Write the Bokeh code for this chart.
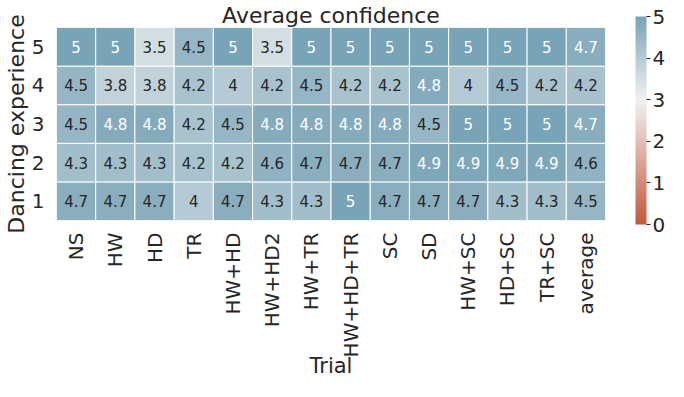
import numpy as np
from bokeh.plotting import figure
from bokeh.models import ColumnDataSource, LinearColorMapper, ColorBar, FixedTicker, FactorRange
from bokeh.embed import file_html
from bokeh.resources import INLINE
from bokeh.core.properties import value

trials = ["NS", "HW", "HD", "TR", "HW+HD", "HW+HD2", "HW+TR", "HW+HD+TR",
          "SC", "SD", "HW+SC", "HD+SC", "TR+SC", "average"]
levels = ["1", "2", "3", "4", "5"]

exp5 = [5, 5, 3.5, 4.5, 5, 3.5, 5, 5, 5, 5, 5, 5, 5, 4.73]
exp4 = [4.5, 3.8, 3.8, 4.2, 4, 4.2, 4.5, 4.2, 4.2, 4.8, 4, 4.5, 4.2, 4.22]
exp3 = [4.5, 4.8, 4.8, 4.2, 4.5, 4.8, 4.8, 4.8, 4.8, 4.5, 5, 5, 5, 4.73]
exp2 = [4.3, 4.3, 4.3, 4.2, 4.2, 4.6, 4.7, 4.7, 4.7, 4.9, 4.9, 4.9, 4.9, 4.6]
exp1 = [4.7, 4.7, 4.7, 4, 4.7, 4.3, 4.3, 5, 4.7, 4.7, 4.7, 4.3, 4.3, 4.5]
rows = {"5": exp5, "4": exp4, "3": exp3, "2": exp2, "1": exp1}

# diverging colormap (red -> light gray -> blue), centred at 3 on a 0..6 span, shown 0..5
neg = np.array([196, 88, 60], dtype=float)
mid = np.array([242, 242, 242], dtype=float)
pos = np.array([60, 123, 153], dtype=float)

def cmap(t):
    if t <= 0.5:
        f = t / 0.5
        c = neg + (mid - neg) * f
    else:
        f = (t - 0.5) / 0.5
        c = mid + (pos - mid) * f
    return "#%02x%02x%02x" % tuple(int(round(v)) for v in c)

vmin, vmax, center = 0.0, 5.0, 3.0
span = max(vmax - center, center - vmin)
lo_t = (vmin - (center - span)) / (2 * span)
hi_t = (vmax - (center - span)) / (2 * span)
palette = [cmap(t) for t in np.linspace(lo_t, hi_t, 256)]
mapper = LinearColorMapper(palette=palette, low=vmin, high=vmax)

xs, ys, vals, labels, tcolors = [], [], [], [], []
for lev in levels:
    for tr, v in zip(trials, rows[lev]):
        xs.append(tr)
        ys.append(lev)
        vals.append(v)
        labels.append("{:.2g}".format(v))
        tcolors.append("#ffffff" if v >= 4.72 else "#262626")

src = ColumnDataSource(dict(x=xs, y=ys, v=vals, lab=labels, tc=tcolors))

p = figure(width=668, height=381, x_range=FactorRange(*trials), y_range=FactorRange(*levels),
           output_backend="svg", toolbar_location=None,
           min_border_left=40, min_border_right=55, min_border_top=0, min_border_bottom=0)
p.title.text = "Average confidence"
p.title.align = "center"
p.title.text_font = "DejaVu Sans"
p.title.text_font_size = "22px"
p.title.text_font_style = "normal"
p.title.text_color = "#262626"
p.title.standoff = 0
p.title.offset = 0

p.rect(x="x", y="y", width=1, height=1, source=src,
       fill_color={"field": "v", "transform": mapper},
       line_color="white", line_width=1)
p.text(x="x", y="y", text="lab", source=src, text_color="tc",
       text_align="center", text_baseline="middle",
       text_font=value("DejaVu Sans"), text_font_size="15px")

p.outline_line_color = None
p.grid.grid_line_color = None
p.background_fill_color = "white"
p.border_fill_color = "white"

for ax in (p.xaxis, p.yaxis):
    ax.axis_line_color = None
    ax.major_tick_line_color = None
    ax.minor_tick_line_color = None
    ax.major_label_text_font = "DejaVu Sans"
    ax.major_label_text_font_size = "20px"
    ax.major_label_text_color = "#262626"
    ax.axis_label_text_font = "DejaVu Sans"
    ax.axis_label_text_font_style = "normal"
    ax.axis_label_text_color = "#262626"

p.xaxis.axis_label_text_font_size = "21px"
p.yaxis.axis_label_text_font_size = "22px"
p.xaxis.axis_label = "Trial"
p.yaxis.axis_label = "Dancing experience"
p.xaxis.major_label_orientation = np.pi / 2
p.xaxis.major_label_standoff = 6
p.xaxis.axis_label_standoff = -6
p.yaxis.major_label_standoff = 6
p.yaxis.axis_label_standoff = 0

cb = ColorBar(color_mapper=mapper, ticker=FixedTicker(ticks=[0, 1, 2, 3, 4, 5]),
              width=11, height=208, padding=0, location=(30, -4),
              major_tick_in=0, major_tick_out=4, major_tick_line_color="#262626",
              minor_tick_line_color=None, bar_line_color=None,
              major_label_text_font="DejaVu Sans", major_label_text_font_size="20px",
              major_label_text_color="#262626", label_standoff=2,
              background_fill_color=None, border_line_color=None)
p.add_layout(cb, "right")

open("out.html", "w").write(file_html(p, INLINE))
